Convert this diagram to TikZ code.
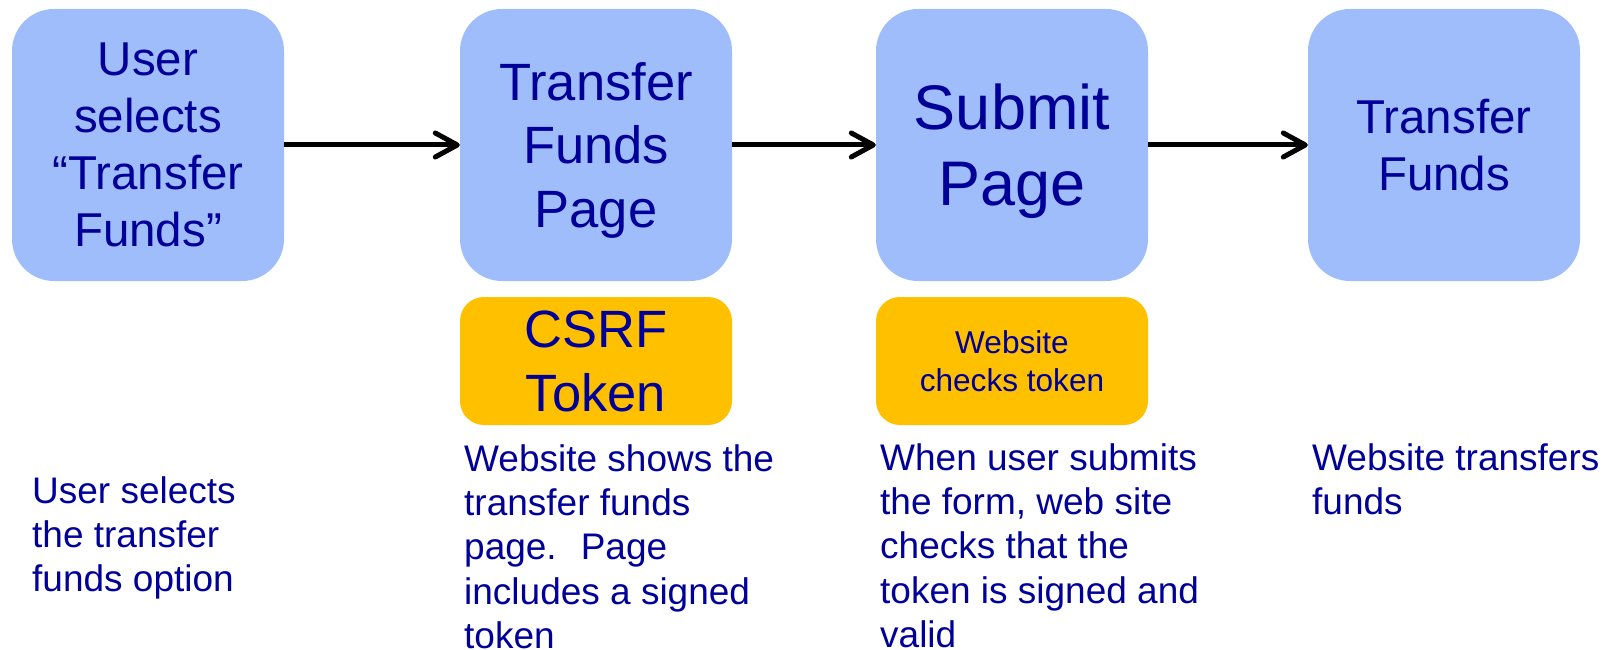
\documentclass[tikz,border=0pt]{standalone}
\usepackage{fontspec}
\setmainfont{Liberation Sans}
\usetikzlibrary{arrows.meta}
\definecolor{boxblue}{HTML}{A0BDFB}
\definecolor{tokyellow}{HTML}{FFC000}
\definecolor{txtblue}{HTML}{000099}
\begin{document}
\begin{tikzpicture}[x=1pt,y=-1pt,
  bigbox/.style={fill=boxblue, rounded corners=42pt, minimum width=272pt, minimum height=272pt, inner sep=0pt, align=center, text=txtblue},
  tokbox/.style={fill=tokyellow, rounded corners=24pt, minimum width=272pt, minimum height=128pt, inner sep=0pt, align=center, text=txtblue},
  note/.style={anchor=base west, inner sep=0pt, text=txtblue, font=\fontsize{37}{44.4}\selectfont},
  flow/.style={line width=5pt, -{Straight Barb[length=22pt,width=24pt,round]}}]
\useasboundingbox (0,0) rectangle (1618,650);

\node[bigbox, font=\fontsize{47.5}{57}\selectfont] (b1) at (148,145) {User\\selects\\“Transfer\\Funds”};
\node[bigbox, font=\fontsize{52.5}{63.5}\selectfont] (b2) at (596,145) {Transfer\\Funds\\\smash{Page}};
\node[bigbox, font=\fontsize{63}{76}\selectfont] (b3) at (1012,145) {Submit\\\smash{Page}};
\node[bigbox, font=\fontsize{47.5}{57}\selectfont] (b4) at (1444,145) {Transfer\\Funds};

\node[tokbox, font=\fontsize{52.5}{64}\selectfont] (t1) at (596,361) {CSRF\\Token};
\node[tokbox, font=\fontsize{31.6}{38}\selectfont] (t2) at (1012,361) {Website\\checks token};

\draw[flow] (b1) -- (b2);
\draw[flow] (b2) -- (b3);
\draw[flow] (b3) -- (b4);

\node[note] (n1) at (32,503) {\parbox[t]{300pt}{\raggedright User selects\\the transfer\\funds option}};
\node[note] (n2) at (464,471) {\parbox[t]{360pt}{\raggedright Website shows the\\transfer funds\\page.~ Page\\includes a signed\\token}};
\node[note] (n3) at (880,470) {\parbox[t]{360pt}{\raggedright When user submits\\the form, web site\\checks that the\\token is signed and\\valid}};
\node[note] (n4) at (1312,470) {\parbox[t]{320pt}{\raggedright Website transfers\\funds}};
\end{tikzpicture}
\end{document}
